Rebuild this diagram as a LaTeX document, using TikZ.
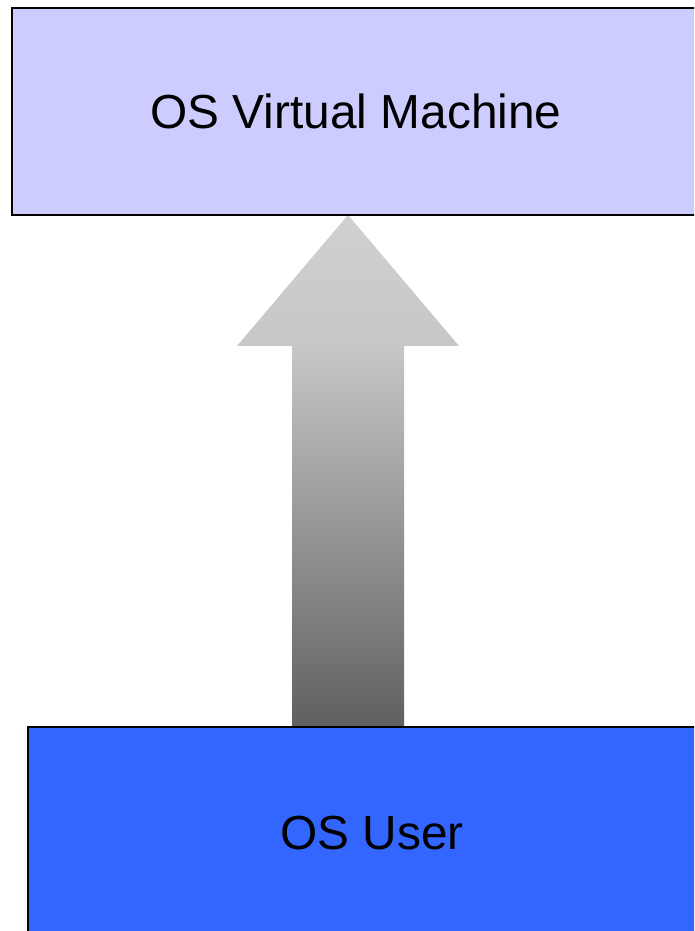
\documentclass[tikz,border=0pt]{standalone}
\usepackage{fontspec}
\setmainfont{Liberation Sans}
\usetikzlibrary{calc}
\definecolor{vmfill}{RGB}{204,204,255}
\definecolor{userfill}{RGB}{51,102,255}
\definecolor{arrtop}{RGB}{208,208,208}
\definecolor{arrmid}{RGB}{199,199,199}
\definecolor{arrbot}{RGB}{96,96,96}
\tikzset{x=1pt,y=1pt,every node/.style={font=\fontsize{47.8}{56}\selectfont},
  layer/.style={draw,line width=2.7pt,minimum width=688pt,inner sep=0pt},
  arrowpart/.style={draw=none}}
\begin{document}
\begin{tikzpicture}
\useasboundingbox (0,0) rectangle (694,931);
\clip (0,0) rectangle (694,931);
\coordinate (tip) at (348,716);\coordinate (base) at (348,204);
\coordinate (neck) at ($(tip)+(0,-131)$);
% block arrow from the user up to the machine: shaft, then head
\shade[arrowpart,top color=arrmid,bottom color=arrbot] ($(neck)+(-56,0.5)$) rectangle ($(base)+(56,0)$);
\shade[arrowpart,top color=arrtop,bottom color=arrmid] (tip)--($(neck)+(111,0)$)--($(neck)+(-111,0)$)--cycle;
\node[layer,fill=vmfill,minimum height=207pt] (vm) at (356,819.5){OS Virtual Machine};
\node[layer,fill=userfill,minimum height=212pt] (user) at (372,98){OS User};
\end{tikzpicture}
\end{document}
